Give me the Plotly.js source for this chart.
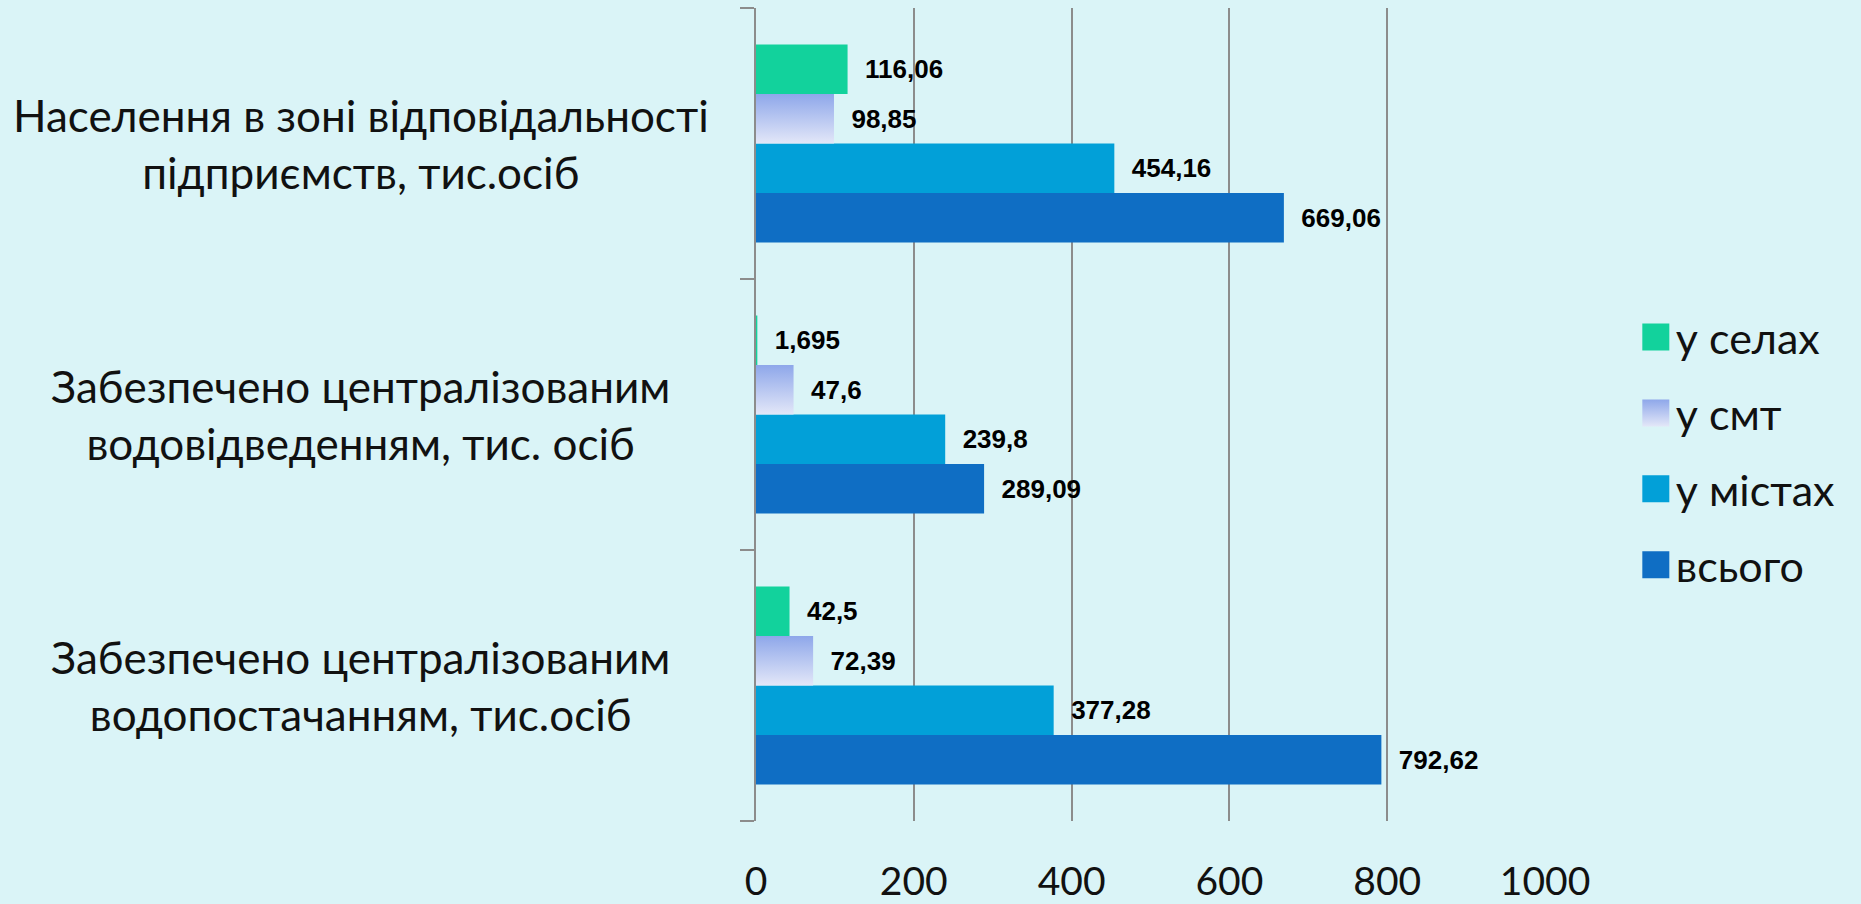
<!DOCTYPE html>
<html>
<head>
<meta charset="utf-8">
<script src="https://cdn.plot.ly/plotly-3.0.1.min.js"></script>
<style>
html,body{margin:0;padding:0;background:#DAF4F7;}
#chart{width:1861px;height:904px;}
</style>
</head>
<body>
<div id="chart"></div>
<script>
// Categories (bottom to top on the axis)
const categories = [
  'Забезпечено централізованим водопостачанням, тис.осіб',
  'Забезпечено централізованим водовідведенням, тис. осіб',
  'Населення в зоні відповідальності підприємств, тис.осіб'
];
const categoryLabels = [
  'Забезпечено централізованим<br>водопостачанням, тис.осіб',
  'Забезпечено централізованим<br>водовідведенням, тис. осіб',
  'Населення в зоні відповідальності<br>підприємств, тис.осіб'
];
const seriesNames = ['всього', 'у містах', 'у смт', 'у селах'];
const vsogo  = [792.62, 289.09, 669.06];
const mistah = [377.28, 239.8, 454.16];
const smt    = [72.39, 47.6, 98.85];
const selah  = [42.5, 1.695, 116.06];
const xTicks = [0, 200, 400, 600, 800, 1000];

const colors = ['#0F6EC4', '#02A0D8', '#B3C1EF', '#12D29C'];
const seriesValues = [vsogo, mistah, smt, selah];

function fmt(v){ return String(v).replace('.', ','); }

const traces = seriesValues.map((vals, i) => ({
  type: 'bar',
  orientation: 'h',
  name: seriesNames[i],
  y: categories,
  x: vals,
  text: vals.map(fmt),
  texttemplate: '\u00a0\u00a0%{text}',
  textposition: 'outside',
  constraintext: 'none',
  cliponaxis: false,
  textfont: {family: 'Liberation Sans, Arial, sans-serif', size: 26, color: '#000', weight: 'bold'},
  marker: {color: colors[i], line: {width: 0}},
  legendgroup: 'g' + i,
  legendrank: 10 - i,
  hoverinfo: 'x+name'
}));

const annotations = categories.map((c, i) => ({
  xref: 'paper', yref: 'y',
  x: -0.501, y: c,
  xanchor: 'center', yanchor: 'middle',
  align: 'center',
  showarrow: false,
  text: categoryLabels[i],
  font: {family: 'Lato, sans-serif', size: 44, color: '#111'}
}));

const layout = {
  width: 1861, height: 904,
  paper_bgcolor: '#DAF4F7',
  plot_bgcolor: '#DAF4F7',
  margin: {l: 756, r: 316, t: 8, b: 83, autoexpand: false},
  barmode: 'group',
  bargap: 0.27,
  bargroupgap: 0,
  showlegend: true,
  legend: {
    xref: 'container', yref: 'container',
    x: 0.879, y: 0.501, xanchor: 'left', yanchor: 'middle',
    traceorder: 'grouped',
    tracegroupgap: 17,
    font: {family: 'Lato, sans-serif', size: 43, color: '#111'},
    bgcolor: 'rgba(0,0,0,0)',
    borderwidth: 0
  },
  xaxis: {
    range: [0, 1000],
    tickvals: xTicks,
    ticktext: xTicks.map(String),
    showgrid: true,
    gridcolor: '#8C8C8C',
    gridwidth: 2,
    zeroline: false,
    showline: false,
    ticks: '',
    ticklabelstandoff: 34,
    tickfont: {family: 'Lato, sans-serif', size: 39, color: '#111'},
    fixedrange: true
  },
  yaxis: {
    type: 'category',
    categoryorder: 'array',
    categoryarray: categories,
    showticklabels: false,
    showgrid: false,
    zeroline: false,
    showline: true,
    linecolor: '#8C8C8C',
    linewidth: 2,
    ticks: 'outside',
    tickson: 'boundaries',
    ticklen: 14,
    tickwidth: 2,
    tickcolor: '#8C8C8C',
    fixedrange: true
  },
  annotations: annotations
};

Plotly.newPlot('chart', traces, layout, {displayModeBar: false, staticPlot: true}).then(gd => {
  const svg = gd.querySelector('.main-svg');
  const ns = 'http://www.w3.org/2000/svg';
  let defs = svg.querySelector('defs');
  if (!defs) { defs = document.createElementNS(ns, 'defs'); svg.insertBefore(defs, svg.firstChild); }
  const grad = document.createElementNS(ns, 'linearGradient');
  grad.setAttribute('id', 'smtGrad');
  grad.setAttribute('x1', '0'); grad.setAttribute('y1', '0');
  grad.setAttribute('x2', '0'); grad.setAttribute('y2', '1');
  [['0', '#8EA7EA'], ['1', '#E3E7F8']].forEach(([o, c]) => {
    const s = document.createElementNS(ns, 'stop');
    s.setAttribute('offset', o); s.setAttribute('stop-color', c);
    grad.appendChild(s);
  });
  defs.appendChild(grad);

  // bars of the "у смт" trace
  const barTraces = gd.querySelectorAll('.barlayer .trace.bars');
  barTraces.forEach(t => {
    const d = t.__data__;
    if (d && d[0] && d[0].trace && d[0].trace.index === 2) {
      t.querySelectorAll('path').forEach(p => { p.style.fill = 'url(#smtGrad)'; });
    }
  });
  // legend items
  gd.querySelectorAll('.legend .traces').forEach(t => {
    const d = t.__data__;
    t.querySelectorAll('.legendpoints path').forEach(p => {
      const old = p.getAttribute('transform') || '';
      p.setAttribute('transform', old + ' scale(2.25)');
      if (d && d[0] && d[0].trace && d[0].trace.index === 2) p.style.fill = 'url(#smtGrad)';
    });
  });
});
</script>
</body>
</html>
